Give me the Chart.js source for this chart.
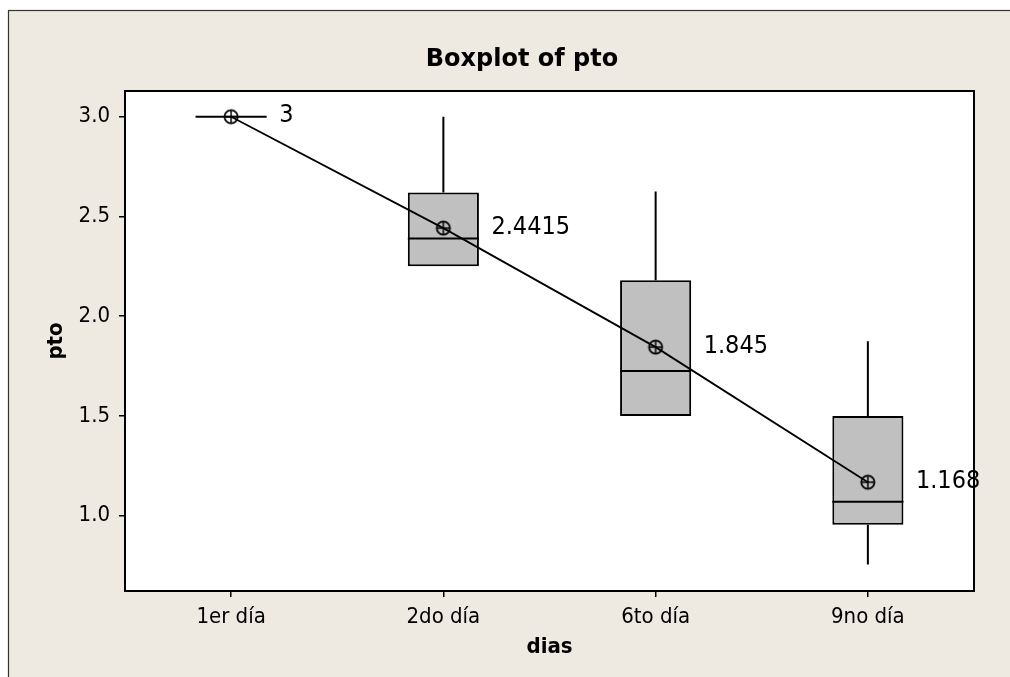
<!DOCTYPE html>
<html>
<head>
<meta charset="utf-8">
<style>
  html, body { margin: 0; padding: 0; background: #fff; }
  #wrap { width: 1010px; height: 677px; position: relative; }
</style>
<script src="https://cdn.jsdelivr.net/npm/chart.js@4.4.1/dist/chart.umd.min.js"></script>
</head>
<body>
<div id="wrap"><canvas id="c" width="1010" height="677"></canvas></div>
<script>
// Five-number summaries and means of pto per day
const categories = ['1er día', '2do día', '6to día', '9no día'];
const minVals    = [3.0, 2.25, 1.5, 0.755];
const q1Vals     = [3.0, 2.25, 1.5, 0.955];
const medianVals = [3.0, 2.39, 1.725, 1.07];
const q3Vals     = [3.0, 2.62, 2.18, 1.5];
const maxVals    = [3.0, 3.0, 2.625, 1.875];
const meanVals   = [3, 2.4415, 1.845, 1.168];
const yTicks     = [1.0, 1.5, 2.0, 2.5, 3.0];

const FONT = "'DejaVu Sans Condensed', 'Liberation Sans', sans-serif";
const TITLE_FONT = "'DejaVu Sans', 'Liberation Sans', sans-serif";
const BEIGE = '#EEEAE1';

// circle-with-cross marker for the means
function makeMeanMarker() {
  const cv = document.createElement('canvas');
  cv.width = 18; cv.height = 18;
  const g = cv.getContext('2d');
  g.strokeStyle = '#000';
  g.lineWidth = 1.8;
  g.beginPath(); g.arc(9, 9, 6.6, 0, Math.PI * 2); g.stroke();
  g.lineWidth = 1.5;
  g.beginPath();
  g.moveTo(2.5, 9); g.lineTo(15.5, 9);
  g.moveTo(9, 2.5); g.lineTo(9, 15.5);
  g.stroke();
  return cv;
}

const boxPlotPlugin = {
  id: 'boxPlotExtras',
  beforeDraw(chart) {
    const ctx = chart.ctx;
    const a = chart.chartArea;
    ctx.save();
    ctx.fillStyle = '#fff';
    ctx.fillRect(0, 0, chart.width, chart.height);
    ctx.fillStyle = BEIGE;
    ctx.fillRect(8, 10, chart.width, chart.height);
    ctx.strokeStyle = '#333';
    ctx.lineWidth = 1.2;
    ctx.strokeRect(8.5, 10.5, chart.width + 10, chart.height + 10);
    ctx.fillStyle = '#fff';
    ctx.fillRect(a.left, a.top, a.right - a.left, a.bottom - a.top);
    ctx.restore();
  },
  afterDatasetDraw(chart, args) {
    if (args.index !== 1) return;
    const ctx = chart.ctx;
    const y = chart.scales.y;
    const meta = chart.getDatasetMeta(1);
    ctx.save();
    ctx.strokeStyle = '#000';
    ctx.lineWidth = 2;
    meta.data.forEach((bar, i) => {
      const cx = bar.x;
      const half = bar.width / 2;
      ctx.beginPath();
      // upper whisker
      ctx.moveTo(cx, y.getPixelForValue(q3Vals[i]));
      ctx.lineTo(cx, y.getPixelForValue(maxVals[i]));
      // lower whisker
      ctx.moveTo(cx, y.getPixelForValue(q1Vals[i]));
      ctx.lineTo(cx, y.getPixelForValue(minVals[i]));
      // median
      const my = y.getPixelForValue(medianVals[i]);
      ctx.moveTo(cx - half, my);
      ctx.lineTo(cx + half, my);
      ctx.stroke();
    });
    ctx.restore();
  },
  afterDraw(chart) {
    const ctx = chart.ctx;
    const a = chart.chartArea;
    const x = chart.scales.x;
    const y = chart.scales.y;
    ctx.save();
    // plot frame
    ctx.strokeStyle = '#000';
    ctx.lineWidth = 2;
    ctx.strokeRect(a.left, a.top, a.right - a.left, a.bottom - a.top);

    // mean value labels
    ctx.fillStyle = '#000';
    ctx.font = '25px ' + FONT;
    ctx.textAlign = 'left';
    ctx.textBaseline = 'middle';
    meanVals.forEach((m, i) => {
      ctx.fillText(String(m), x.getPixelForValue(i) + 48, y.getPixelForValue(m) - 1);
    });

    // titles
    ctx.textAlign = 'center';
    ctx.font = 'bold 24px ' + TITLE_FONT;
    ctx.fillText('Boxplot of pto', 522, 60);
    ctx.font = 'bold 22px ' + FONT;
    ctx.fillText('dias', (a.left + a.right) / 2, 647);
    ctx.translate(56, (a.top + a.bottom) / 2);
    ctx.rotate(-Math.PI / 2);
    ctx.fillText('pto', 0, 0);
    ctx.restore();
  }
};

const tickFont = { family: FONT, size: 22 };

new Chart(document.getElementById('c'), {
  type: 'bar',
  data: {
    labels: categories,
    datasets: [
      {
        type: 'line',
        data: meanVals,
        borderColor: '#000',
        borderWidth: 1.8,
        pointStyle: makeMeanMarker(),
        pointRadius: 9,
        fill: false,
        tension: 0
      },
      {
        type: 'bar',
        data: categories.map((c, i) => [q1Vals[i], q3Vals[i]]),
        backgroundColor: '#C0C0C0',
        borderColor: '#000',
        borderWidth: 2,
        borderSkipped: false,
        barPercentage: 0.335,
        categoryPercentage: 1
      }
    ]
  },
  options: {
    responsive: false,
    animation: false,
    devicePixelRatio: 1,
    layout: { padding: { left: 0, top: 91, right: 36, bottom: 0 } },
    plugins: { legend: { display: false }, tooltip: { enabled: false } },
    scales: {
      x: {
        type: 'category',
        offset: true,
        grid: { display: true, offset: false, drawOnChartArea: false, drawTicks: true, tickLength: 6, color: '#000', lineWidth: 1.5 },
        border: { display: true, color: '#000', width: 2 },
        ticks: { color: '#000', font: tickFont, padding: 7, maxRotation: 0, autoSkip: false },
        afterFit(s) { s.height = 86; }
      },
      y: {
        type: 'linear',
        min: 0.6226,
        max: 3.1288,
        afterBuildTicks(s) { s.ticks = yTicks.map(v => ({ value: v })); },
        grid: { display: true, drawOnChartArea: false, drawTicks: true, tickLength: 6, color: '#000', lineWidth: 1.5 },
        border: { display: true, color: '#000', width: 2 },
        ticks: { color: '#000', font: tickFont, padding: 9, callback: v => Number(v).toFixed(1) },
        afterFit(s) { s.width = 125; }
      }
    }
  },
  plugins: [boxPlotPlugin]
});
</script>
</body>
</html>
